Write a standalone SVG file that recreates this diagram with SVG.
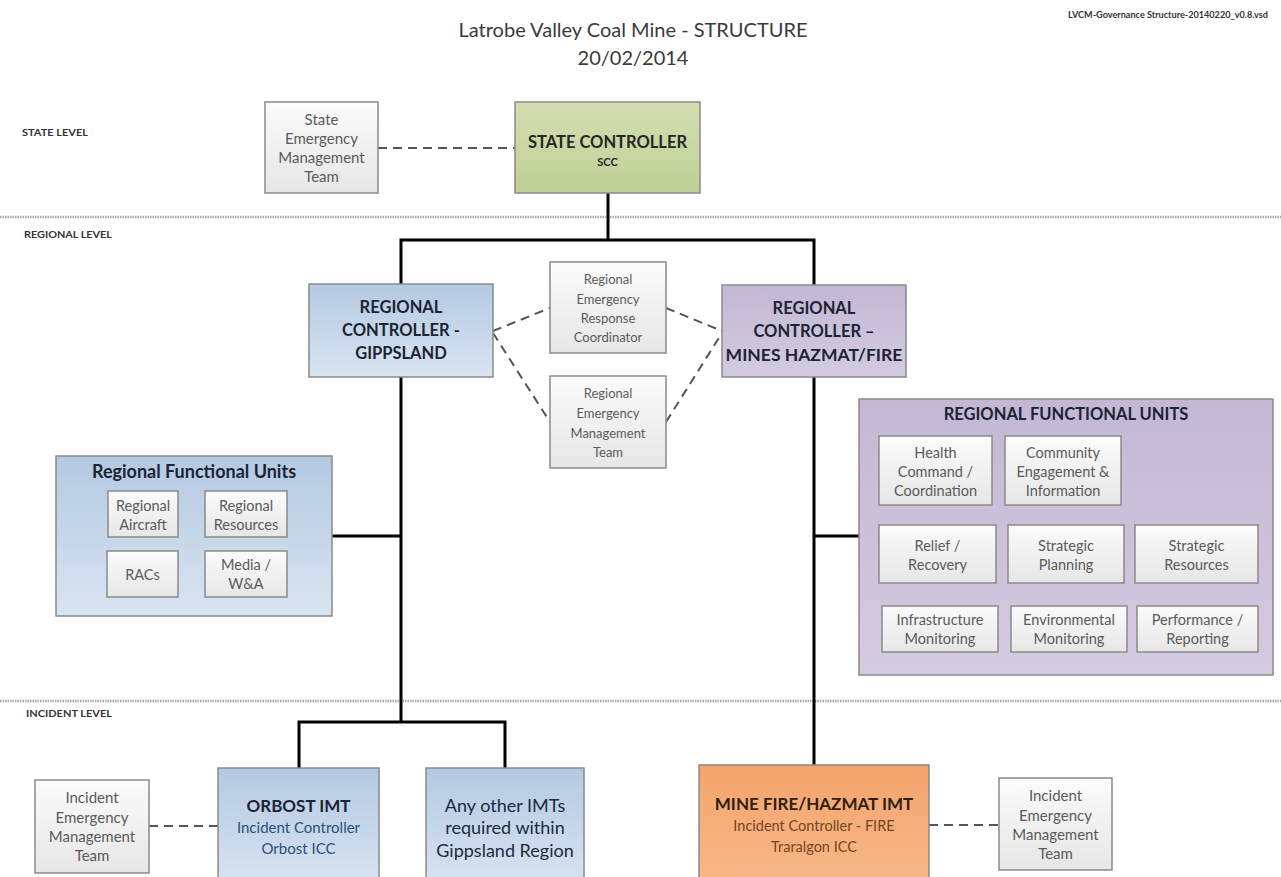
<svg xmlns="http://www.w3.org/2000/svg" width="1281" height="877" viewBox="0 0 1281 877">
<defs>
<linearGradient id="gGray" x1="0" y1="0" x2="0" y2="1"><stop offset="0" stop-color="#fbfbfb"/><stop offset="1" stop-color="#e6e6e6"/></linearGradient>
<linearGradient id="gGreen" x1="0" y1="0" x2="0" y2="1"><stop offset="0" stop-color="#d3deb0"/><stop offset="1" stop-color="#c0cf95"/></linearGradient>
<linearGradient id="gBlue" x1="0" y1="0" x2="0" y2="1"><stop offset="0" stop-color="#b3c9e2"/><stop offset="1" stop-color="#d9e4f1"/></linearGradient>
<linearGradient id="gPurple" x1="0" y1="0" x2="0" y2="1"><stop offset="0" stop-color="#c3b8d4"/><stop offset="1" stop-color="#d3cbe0"/></linearGradient>
<linearGradient id="gOrange" x1="0" y1="0" x2="0" y2="1"><stop offset="0" stop-color="#f4a46b"/><stop offset="1" stop-color="#f8b88a"/></linearGradient>
</defs>
<style>
text{font-family:Lato,"Open Sans","Liberation Sans",sans-serif;text-anchor:middle;dominant-baseline:central}
.box{stroke:#8a8a8a;stroke-width:1.5}
.gray{fill:url(#gGray)}
.green{fill:url(#gGreen)}
.blue{fill:url(#gBlue)}
.purple{fill:url(#gPurple)}
.orange{fill:url(#gOrange)}
.inner{fill:url(#gGray);stroke:#8a8a8a;stroke-width:1.5}
.gt{fill:#5a5a5a;font-size:15px}
.rt{fill:#5a5a5a;font-size:13px}
.it{fill:#5a5a5a;font-size:14.5px}
.hd{font-weight:bold;fill:#1c2433;font-size:16.5px}
.lvl{font-weight:bold;fill:#333;font-size:9px;text-anchor:start}
.solid{stroke:#000;stroke-width:3;fill:none}
.dash{stroke:#555;stroke-width:2;stroke-dasharray:9 6;fill:none}
.sep{stroke:#a9a9a9;stroke-width:2.5;stroke-dasharray:1.5 1;fill:none}
</style>
<rect width="1281" height="877" fill="#fff"/>
<g id="title">
<text x="633" y="29" style="font-size:20px;fill:#3a3a3a">Latrobe Valley Coal Mine - STRUCTURE</text>
<text x="633" y="57" style="font-size:20px;fill:#3a3a3a">20/02/2014</text>
<text x="1168" y="15" style="font-size:8.5px;fill:#333;font-weight:bold" textLength="200" lengthAdjust="spacingAndGlyphs">LVCM-Governance Structure-20140220_v0.8.vsd</text>
</g>
<g id="levels">
<line class="sep" x1="0" y1="217" x2="1281" y2="217"/>
<line class="sep" x1="0" y1="701" x2="1281" y2="701"/>
<text class="lvl" x="22" y="132" textLength="66" lengthAdjust="spacingAndGlyphs">STATE LEVEL</text>
<text class="lvl" x="24" y="234" textLength="88" lengthAdjust="spacingAndGlyphs">REGIONAL LEVEL</text>
<text class="lvl" x="26" y="713" textLength="86" lengthAdjust="spacingAndGlyphs">INCIDENT LEVEL</text>
</g>
<g id="connectors">
<polyline class="solid" points="608,193 608,240"/>
<polyline class="solid" points="401,284 401,240 814,240 814,285"/>
<polyline class="solid" points="401,377 401,722"/>
<polyline class="solid" points="299,768 299,722 505,722 505,768"/>
<polyline class="solid" points="332,536 401,536"/>
<polyline class="solid" points="814,377 814,766"/>
<polyline class="solid" points="814,536 859,536"/>
<line class="dash" x1="378" y1="148" x2="515" y2="148"/>
<line class="dash" x1="493" y1="331" x2="550" y2="308"/>
<line class="dash" x1="493" y1="333" x2="550" y2="422"/>
<line class="dash" x1="666" y1="308" x2="722" y2="331"/>
<line class="dash" x1="666" y1="422" x2="722" y2="333"/>
<line class="dash" x1="149" y1="826" x2="218" y2="826"/>
<line class="dash" x1="929" y1="825" x2="999" y2="825"/>
</g>
<g id="state-emt">
<rect class="box gray" x="265" y="102" width="113" height="91"/>
<text class="gt" x="321.5" y="119">State</text>
<text class="gt" x="321.5" y="138">Emergency</text>
<text class="gt" x="321.5" y="157">Management</text>
<text class="gt" x="321.5" y="176">Team</text>
</g>
<g id="state-controller">
<rect class="box green" x="515" y="102" width="185" height="91"/>
<text x="607.5" y="142" style="font-weight:bold;font-size:16.5px;fill:#262626">STATE CONTROLLER</text>
<text x="607.5" y="161" style="font-weight:bold;font-size:11px;fill:#262626">SCC</text>
</g>
<g id="rc-gippsland">
<rect class="box blue" x="309" y="284" width="184" height="93"/>
<text class="hd" x="401" y="307">REGIONAL</text>
<text class="hd" x="401" y="330">CONTROLLER -</text>
<text class="hd" x="401" y="353">GIPPSLAND</text>
</g>
<g id="rc-mines">
<rect class="box purple" x="722" y="285" width="184" height="92"/>
<text class="hd" x="814" y="308">REGIONAL</text>
<text class="hd" x="814" y="331">CONTROLLER –</text>
<text class="hd" x="814" y="354" style="font-size:17.5px">MINES HAZMAT/FIRE</text>
</g>
<g id="rerc">
<rect class="box gray" x="550" y="262" width="116" height="91"/>
<text class="rt" x="608" y="279">Regional</text>
<text class="rt" x="608" y="299">Emergency</text>
<text class="rt" x="608" y="318">Response</text>
<text class="rt" x="608" y="337">Coordinator</text>
</g>
<g id="remt">
<rect class="box gray" x="550" y="376" width="116" height="92"/>
<text class="rt" x="608" y="393">Regional</text>
<text class="rt" x="608" y="413">Emergency</text>
<text class="rt" x="608" y="433">Management</text>
<text class="rt" x="608" y="452">Team</text>
</g>
<g id="rfu-left">
<rect class="box blue" x="56" y="456" width="276" height="160"/>
<text x="194" y="471" style="font-weight:bold;font-size:18px;fill:#1c2433">Regional Functional Units</text>
<rect class="inner" x="108" y="491" width="70" height="46"/>
<text class="it" x="143" y="505">Regional</text>
<text class="it" x="143" y="524">Aircraft</text>
<rect class="inner" x="205" y="491" width="82" height="46"/>
<text class="it" x="246" y="505">Regional</text>
<text class="it" x="246" y="524">Resources</text>
<rect class="inner" x="107" y="551" width="71" height="46"/>
<text class="it" x="142.5" y="574">RACs</text>
<rect class="inner" x="205" y="551" width="82" height="46"/>
<text class="it" x="246" y="564">Media /</text>
<text class="it" x="246" y="583">W&amp;A</text>
</g>
<g id="rfu-right">
<rect class="box purple" x="859" y="399" width="414" height="276"/>
<text x="1066" y="414" style="font-weight:bold;font-size:16.5px;fill:#1c2433">REGIONAL FUNCTIONAL UNITS</text>
<rect class="inner" x="879" y="436" width="113" height="69"/>
<text class="it" x="935.5" y="452">Health</text>
<text class="it" x="935.5" y="471">Command /</text>
<text class="it" x="935.5" y="490">Coordination</text>
<rect class="inner" x="1005" y="436" width="116" height="69"/>
<text class="it" x="1063" y="452">Community</text>
<text class="it" x="1063" y="471">Engagement &amp;</text>
<text class="it" x="1063" y="490">Information</text>
<rect class="inner" x="879" y="525" width="117" height="58"/>
<text class="it" x="937.5" y="545">Relief /</text>
<text class="it" x="937.5" y="564">Recovery</text>
<rect class="inner" x="1008" y="525" width="116" height="58"/>
<text class="it" x="1066" y="545">Strategic</text>
<text class="it" x="1066" y="564">Planning</text>
<rect class="inner" x="1135" y="525" width="123" height="58"/>
<text class="it" x="1196.5" y="545">Strategic</text>
<text class="it" x="1196.5" y="564">Resources</text>
<rect class="inner" x="882" y="606" width="116" height="46"/>
<text class="it" x="940" y="619">Infrastructure</text>
<text class="it" x="940" y="638">Monitoring</text>
<rect class="inner" x="1011" y="606" width="116" height="46"/>
<text class="it" x="1069" y="619">Environmental</text>
<text class="it" x="1069" y="638">Monitoring</text>
<rect class="inner" x="1137" y="606" width="121" height="46"/>
<text class="it" x="1197.5" y="619">Performance /</text>
<text class="it" x="1197.5" y="638">Reporting</text>
</g>
<g id="iemt-left">
<rect class="box gray" x="35" y="780" width="114" height="93"/>
<text class="gt" x="92" y="797">Incident</text>
<text class="gt" x="92" y="817">Emergency</text>
<text class="gt" x="92" y="836">Management</text>
<text class="gt" x="92" y="855">Team</text>
</g>
<g id="orbost-imt">
<rect class="box blue" x="218" y="768" width="161" height="120"/>
<text x="298.5" y="805" style="font-weight:bold;font-size:17px;fill:#1c2433">ORBOST IMT</text>
<text x="298.5" y="827" style="font-size:15px;fill:#2d4f7c">Incident Controller</text>
<text x="298.5" y="848" style="font-size:15px;fill:#2d4f7c">Orbost ICC</text>
</g>
<g id="other-imts">
<rect class="box blue" x="426" y="768" width="158" height="120"/>
<text x="505" y="805" style="font-size:18px;fill:#1c2a40">Any other IMTs</text>
<text x="505" y="827" style="font-size:18px;fill:#1c2a40">required within</text>
<text x="505" y="850" style="font-size:18px;fill:#1c2a40">Gippsland Region</text>
</g>
<g id="minefire-imt">
<rect class="box orange" x="699" y="765" width="230" height="123"/>
<text x="814" y="803" style="font-weight:bold;font-size:17px;fill:#2e2015">MINE FIRE/HAZMAT IMT</text>
<text x="814" y="825" style="font-size:14.5px;fill:#74461f">Incident Controller - FIRE</text>
<text x="814" y="846" style="font-size:14.5px;fill:#74461f">Traralgon ICC</text>
</g>
<g id="iemt-right">
<rect class="box gray" x="999" y="778" width="113" height="92"/>
<text class="gt" x="1055.5" y="795">Incident</text>
<text class="gt" x="1055.5" y="815">Emergency</text>
<text class="gt" x="1055.5" y="834">Management</text>
<text class="gt" x="1055.5" y="853">Team</text>
</g>
</svg>
